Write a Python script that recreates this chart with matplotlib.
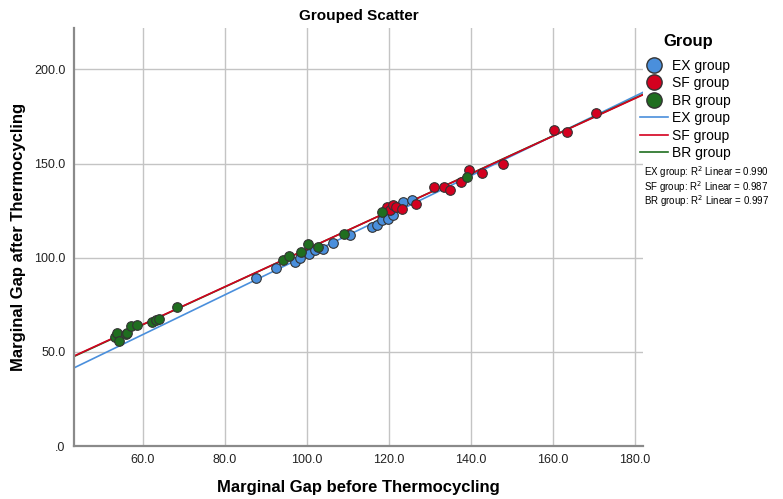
import numpy as np
import matplotlib
matplotlib.use("Agg")
import matplotlib.pyplot as plt
from matplotlib.lines import Line2D
from matplotlib.ticker import FuncFormatter

plt.rcParams['font.family'] = ['Liberation Sans', 'DejaVu Sans']

groups = ['EX group', 'SF group', 'BR group']
colors = ['#4a8fdc', '#d4001f', '#1f6e1f']
r2_values = ['0.990', '0.987', '0.997']

# marginal gap before / after thermocycling
ex_before = [87.6, 92.4, 97.1, 98.3, 100.5, 102.0, 103.8, 106.4, 110.5, 115.8,
             117.0, 118.2, 119.8, 121.0, 123.5, 125.5]
ex_after = [89.3, 94.3, 97.8, 99.6, 102.2, 104.0, 104.9, 107.9, 112.0, 116.3,
            117.2, 120.3, 120.8, 122.5, 129.6, 130.9]
sf_before = [119.4, 120.2, 121.0, 121.8, 123.1, 126.7, 131.0, 133.4, 134.9,
             137.5, 139.4, 142.8, 147.7, 160.3, 163.3, 170.5]
sf_after = [127.0, 125.6, 127.9, 127.0, 126.1, 128.4, 137.6, 137.6, 136.2,
            140.2, 146.4, 145.2, 150.0, 167.6, 166.7, 177.0]
br_before = [53.2, 53.7, 54.1, 55.9, 56.2, 57.2, 58.5, 62.1, 63.2, 64.0, 68.2,
             94.2, 95.7, 98.5, 100.3, 102.8, 109.0, 118.2, 139.1]
br_after = [57.8, 60.0, 55.7, 59.4, 60.0, 63.8, 64.2, 65.8, 66.8, 67.3, 73.9,
            98.7, 101.0, 102.8, 107.2, 105.7, 112.5, 124.2, 142.9]

befores = [ex_before, sf_before, br_before]
afters = [ex_after, sf_after, br_after]

fig = plt.figure(figsize=(7.83, 4.99), dpi=100)
ax = fig.add_axes([0.0945, 0.106, 0.727, 0.838])

xmin, xmax = 43.2, 182.0
ax.set_xlim(xmin, xmax)
ax.set_ylim(0, 222)

# fit lines first (SF drawn last so it stays visible), then points on top
xs = np.array([xmin, xmax])
for i in [0, 2, 1]:
    slope, icpt = np.polyfit(befores[i], afters[i], 1)
    ax.plot(xs, slope * xs + icpt, color=colors[i], lw=1.2, zorder=2)

for xb, ya, c in zip(befores, afters, colors):
    ax.scatter(xb, ya, s=48, color=c, edgecolor='#333333', linewidth=0.8, zorder=3)

ax.set_xticks([60, 80, 100, 120, 140, 160, 180])
ax.set_yticks([0, 50, 100, 150, 200])
fmt = FuncFormatter(lambda v, p: '.0' if v == 0 else f'{v:.1f}')
ax.xaxis.set_major_formatter(fmt)
ax.yaxis.set_major_formatter(fmt)
ax.tick_params(length=0, labelsize=9, colors='#222222', pad=6)
ax.grid(True, color='#c4c4c4', lw=1.0)
ax.set_axisbelow(True)
for s in ['top', 'right']:
    ax.spines[s].set_visible(False)
for s in ['left', 'bottom']:
    ax.spines[s].set_color('#8a8a8a')
    ax.spines[s].set_linewidth(1.6)

ax.set_title('Grouped Scatter', fontsize=11, fontweight='bold', pad=6)
ax.set_xlabel('Marginal Gap before Thermocycling', fontsize=12, fontweight='bold')
ax.set_ylabel('Marginal Gap after Thermocycling', fontsize=12, fontweight='bold')
ax.xaxis.set_label_coords(0.5, -0.08)
ax.yaxis.set_label_coords(-0.084, 0.5)

# legend: title as its own text so the rows sit a bit lower
fig.text(0.847, 0.916, 'Group', fontsize=12, fontweight='bold', va='center')
handles = [Line2D([], [], marker='o', ls='none', markersize=11, markerfacecolor=c,
                  markeredgecolor='#333333') for c in colors]
handles += [Line2D([], [], color=c, lw=1.2) for c in colors]
labels = groups + groups
leg = fig.legend(handles, labels, loc='upper left',
                 bbox_to_anchor=(0.818, 0.882), frameon=False, fontsize=10,
                 handlelength=2.0, handletextpad=0.3, labelspacing=0.25,
                 borderaxespad=0, borderpad=0)

for i, (g, r2) in enumerate(zip(groups, r2_values)):
    fig.text(0.822, 0.647 - i * 0.029, f'{g}: R$^2$ Linear = {r2}', fontsize=7)

fig.savefig('out.png', dpi=100)
